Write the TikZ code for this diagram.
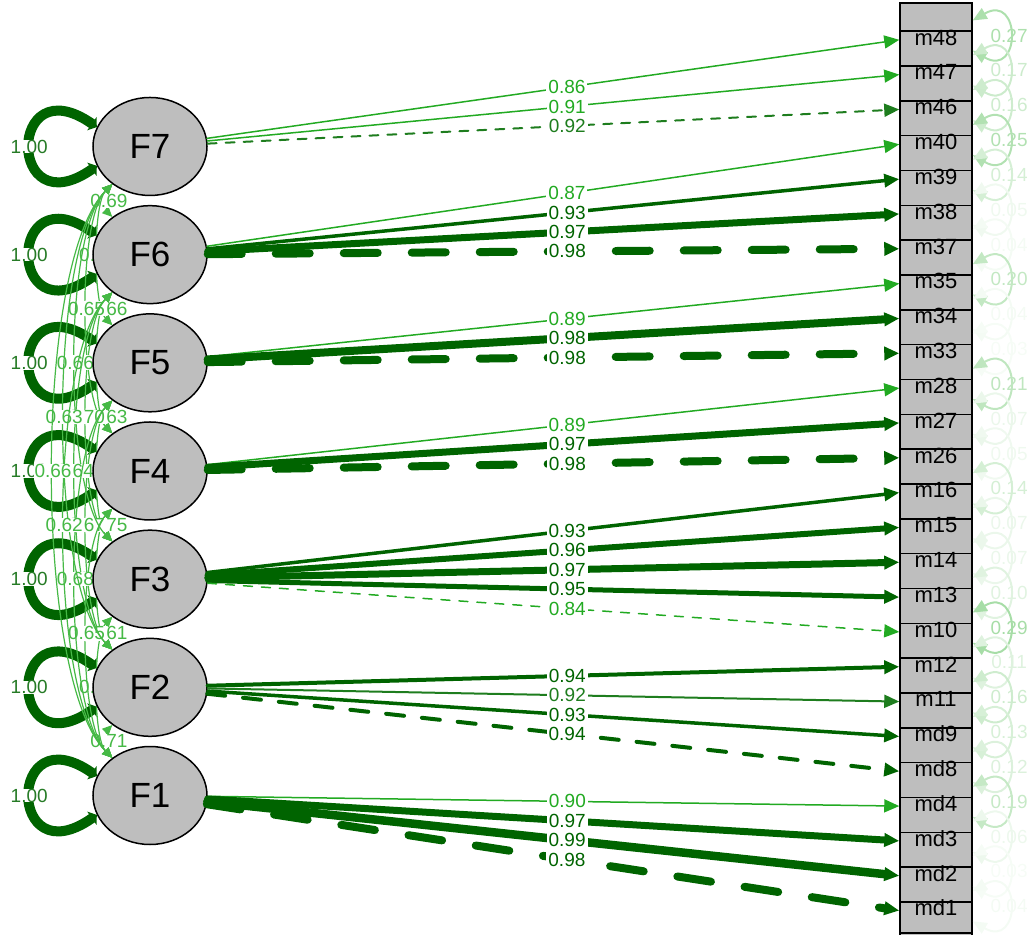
\documentclass[tikz,border=0pt]{standalone}
\usepackage{fontspec}
\setmainfont{Liberation Sans}
\usetikzlibrary{arrows.meta,shapes.geometric,backgrounds}
\definecolor{dg}{RGB}{0,100,0}
\definecolor{mg}{RGB}{30,125,30}
\definecolor{lg}{RGB}{34,170,34}
\definecolor{cg}{RGB}{70,185,70}
\definecolor{boxgray}{RGB}{190,190,190}
\tikzset{%
  lat/.style={ellipse,draw,line width=0.75pt,fill=boxgray,minimum width=57pt,minimum height=49pt,inner sep=0pt,font=\fontsize{17.5}{20}\selectfont},
  ind/.style={rectangle,draw,line width=0.75pt,fill=boxgray,minimum width=36pt,minimum height=17.415pt,inner sep=0pt,text height=0pt,text depth=3.5pt,font=\fontsize{11}{13}\selectfont},
  load/.style={line cap=round,-{Triangle[length=7.5pt,width=6.5pt]}},
  lbl/.style={pos=0.52,fill=white,inner sep=0.4pt,inner xsep=1pt,font=\fontsize{9.5}{11}\selectfont},
  dthin/.style={dash pattern=on 4.5pt off 4.5pt},
  dmid/.style={dash pattern=on 9pt off 9pt},
  dthick/.style={dash pattern=on 17pt off 17pt},
  corr/.style={draw=cg,line width=0.6pt,{Triangle[length=5pt,width=4.5pt]}-{Triangle[length=5pt,width=4.5pt]}},
  clbl/.style={pos=0.5,fill=white,inner sep=0.3pt,text=cg,font=\fontsize{9.5}{11}\selectfont},
  vloop/.style={draw=dg,line width=5pt,{Triangle[length=3pt,width=8pt]}-{Triangle[length=3pt,width=8pt]}},
  vlbl/.style={pos=0.5,fill=white,inner sep=0pt,text=dg!85,font=\fontsize{9.5}{11}\selectfont},
  rloop/.style={line width=1pt,{Triangle[length=7pt,width=6pt]}-{Triangle[length=7pt,width=6pt]}},
  rlbl/.style={pos=0.5,inner sep=0pt,font=\fontsize{9.5}{11}\selectfont}
}
\begin{document}
\begin{tikzpicture}[x=0.5pt,y=0.5pt]
\useasboundingbox (0,0) rectangle (1034,-935);
% factors
\foreach \i in {1,...,7}
  \node[lat] (F\i) at (150,{-795.5+108.17*(\i-1)}) {F\i};
% items
\foreach \n [count=\k from 0] in {m48,m47,m46,m40,m39,m38,m37,m35,m34,m33,m28,m27,m26,m16,m15,m14,m13,m10,m12,m11,md9,md8,md4,md3,md2,md1}
  \node[ind] (\n) at (936,{-48.6-34.83*\k}) {\n};
\draw[line width=0.75pt] (900,-3) rectangle (972,-933);
\begin{scope}[on background layer]
  \path[draw,fill=boxgray,line width=0.75pt] (900,-3) rectangle (972,-933);
  \foreach \i in {1,...,7}
    \draw[vloop] (F\i.160) .. controls +(145:110) and +(215:110) .. (F\i.200) node[vlbl] {1.00};
  % factor covariances
  \foreach \a/\b/\v in {7/6/0.69,6/5/0.66,5/4/0.63,4/3/0.75,3/2/0.61,2/1/0.71,%
      7/5/0.70,6/4/0.68,5/3/0.64,4/2/0.61,3/1/0.70,%
      7/4/0.65,6/3/0.70,5/2/0.67,4/1/0.65,%
      7/3/0.66,6/2/0.64,5/1/0.68,%
      7/2/0.63,6/1/0.62,%
      7/1/0.66}
    \draw[corr] (F\a) to[out=225,in=135,looseness=0.5] node[clbl] {\v} (F\b);
\end{scope}
% loadings
\foreach \f/\n/\v/\w/\c/\d in {F7/m48/0.86/0.75pt/lg/solid,F7/m47/0.91/0.75pt/lg/solid,F7/m46/0.92/1pt/mg/dthin,%
    F6/m40/0.87/0.75pt/lg/solid,F6/m39/0.93/1.75pt/dg/solid,F6/m38/0.97/3.5pt/dg/solid,F6/m37/0.98/4pt/dg/dthick,%
    F5/m35/0.89/0.75pt/lg/solid,F5/m34/0.98/4pt/dg/solid,F5/m33/0.98/4pt/dg/dthick,%
    F4/m28/0.89/0.75pt/lg/solid,F4/m27/0.97/3.5pt/dg/solid,F4/m26/0.98/4pt/dg/dthick,%
    F3/m16/0.93/1.75pt/dg/solid,F3/m15/0.96/3pt/dg/solid,F3/m14/0.97/3.5pt/dg/solid,F3/m13/0.95/2.5pt/dg/solid,F3/m10/0.84/0.75pt/lg/dthin,%
    F2/m12/0.94/2pt/dg/solid,F2/m11/0.92/1pt/mg/solid,F2/md9/0.93/1.75pt/dg/solid,F2/md8/0.94/2pt/dg/dmid,%
    F1/md4/0.90/0.75pt/lg/solid,F1/md3/0.97/3.5pt/dg/solid,F1/md2/0.99/4.25pt/dg/solid,F1/md1/0.98/4pt/dg/dthick}
  \draw[load,line width=\w,draw=\c,\d] (\f) -- (\n.mid west) node[lbl,text=\c] {\v};
% residuals
\foreach \n/\v [evaluate=\v as \p using int(\v*140)] in {m48/0.27,m47/0.17,m46/0.16,m40/0.25,m39/0.14,m38/0.05,m37/0.04,%
    m35/0.20,m34/0.04,m33/0.03,m28/0.21,m27/0.07,m26/0.05,m16/0.14,m15/0.07,m14/0.07,m13/0.10,m10/0.29,%
    m12/0.11,m11/0.16,md9/0.13,md8/0.12,md4/0.19,md3/0.06,md2/0.03,md1/0.04}
  \draw[rloop,draw=lg!\p] ([yshift=5pt]\n.north east) .. controls +(30:56) and +(-30:56) .. ([yshift=-1pt]\n.east)
    node[rlbl,text=lg!\p] {\v};
\end{tikzpicture}
\end{document}
